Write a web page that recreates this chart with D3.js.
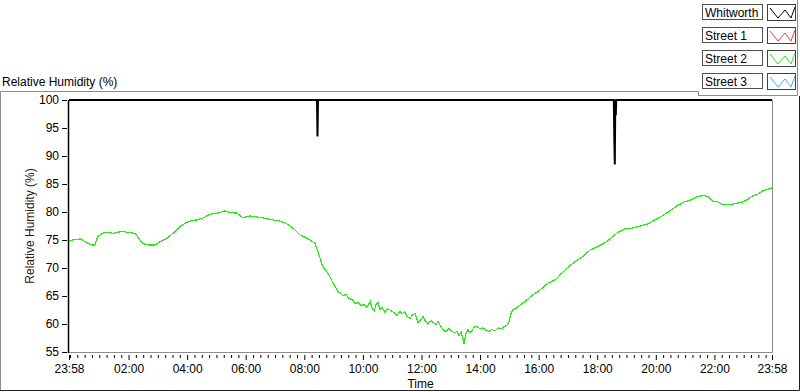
<!DOCTYPE html>
<html>
<head>
<meta charset="utf-8">
<script src="https://cdn.jsdelivr.net/npm/d3@7"></script>
<style>
  body { margin: 0; background: #fff; }
  svg { display: block; font-family: "Segoe UI", Tahoma, "Liberation Sans", sans-serif; }
</style>
</head>
<body>
<div id="chart"></div>
<script>
// minutes elapsed since 23:58 (start of the 24 h window)
const street2Min = [0, 8, 23, 29, 39, 47, 53, 59, 68, 80, 90, 100, 111, 125, 135, 141, 150, 156, 166, 176,
  186, 201, 213, 227, 244, 262, 274, 289, 303, 320, 330, 344, 356, 371, 387, 401, 416, 432, 446, 459,
  473, 488, 504, 510, 520, 531, 541, 551, 555, 561, 567, 574, 580, 586, 592, 598, 604, 610, 617, 621,
  625, 629, 633, 637, 641, 647, 653, 660, 666, 672, 678, 682, 688, 692, 699, 703, 709, 715, 721, 725,
  729, 735, 742, 746, 752, 756, 760, 766, 772, 778, 782, 789, 795, 799, 803, 807, 809, 813, 817, 821,
  826, 832, 838, 842, 848, 854, 860, 866, 873, 879, 885, 891, 897, 901, 905, 909, 916, 924, 932, 938,
  944, 950, 959, 965, 973, 981, 996, 1006, 1020, 1036, 1053, 1067, 1082, 1098, 1112, 1125, 1139, 1153, 1170, 1186,
  1200, 1215, 1231, 1245, 1260, 1272, 1286, 1299, 1309, 1319, 1329, 1340, 1350, 1360, 1370, 1381, 1391, 1401, 1411, 1422,
  1432, 1440];
const street2 = [74.8, 75.0, 75.2, 74.9, 74.4, 74.1, 74.1, 75.6, 76.2, 76.4, 76.2, 76.4, 76.5, 76.3, 76.2, 75.5, 74.5, 74.2, 74.1, 74.1,
  74.7, 75.3, 76.2, 77.4, 78.3, 78.6, 78.9, 79.6, 79.8, 80.2, 79.9, 79.8, 79.0, 79.3, 79.1, 78.9, 78.6, 78.4, 77.9, 77.1,
  75.9, 75.3, 74.4, 72.9, 70.2, 69.0, 67.3, 65.8, 65.6, 65.0, 65.3, 64.5, 64.4, 63.6, 63.9, 63.3, 63.5, 63.0, 64.0, 62.8,
  62.3, 63.5, 63.8, 62.6, 63.0, 62.1, 62.7, 62.4, 62.0, 61.5, 62.3, 61.8, 62.2, 61.4, 61.0, 61.6, 61.9, 60.2, 60.8, 61.3,
  60.7, 60.0, 60.6, 60.3, 59.9, 60.5, 59.8, 59.0, 58.6, 59.2, 58.9, 58.4, 58.7, 57.9, 58.6, 57.2, 56.5, 58.3, 59.0, 58.5,
  58.9, 59.6, 59.4, 59.1, 59.3, 58.9, 58.7, 59.0, 58.8, 59.3, 59.1, 59.5, 59.8, 60.4, 61.8, 62.5, 62.8, 63.4, 63.9, 64.3,
  64.8, 65.2, 65.7, 66.1, 66.7, 67.3, 67.9, 68.8, 70.0, 71.1, 72.1, 73.2, 73.8, 74.5, 75.5, 76.4, 77.0, 77.1, 77.5, 77.9,
  78.6, 79.3, 80.2, 81.1, 81.8, 82.1, 82.7, 83.0, 82.7, 81.9, 81.8, 81.3, 81.3, 81.4, 81.6, 81.8, 82.3, 82.9, 83.2, 83.8,
  84.1, 84.3];

const whitworthMin = [0, 508, 509, 510, 1116, 1117, 1118, 1119, 1120, 1121, 1440];
const whitworth = [100, 100, 93.5, 100, 100, 93.0, 88.5, 100, 97.3, 100, 100];

const seriesNames = ["Whitworth", "Street 1", "Street 2", "Street 3"];
const seriesColors = ["#000000", "#f03c3c", "#22ee11", "#3cb4f0"];

const yTicks = [55, 60, 65, 70, 75, 80, 85, 90, 95, 100];
const xMajor = [0, 122, 242, 362, 482, 602, 722, 842, 962, 1082, 1202, 1322, 1440];

const width = 800, height = 392;
const margin = { top: 100, right: 28, bottom: 40, left: 69 };

const svg = d3.select("#chart").append("svg")
  .attr("width", width)
  .attr("height", height);

const x = d3.scaleLinear().domain([0, 1440]).range([margin.left, width - margin.right]);
const y = d3.scaleLinear().domain([55, 100]).range([height - margin.bottom, margin.top]);

const clock = t => {
  const m = ((t - 2) % 1440 + 1440) % 1440;
  return String(Math.floor(m / 60)).padStart(2, "0") + ":" + String(m % 60).padStart(2, "0");
};

// outer panel frame
svg.append("path").attr("d", "M0.5,390 V91.5 H698.5 V96").attr("fill", "none").attr("stroke", "#8c8c8c");
svg.append("path").attr("d", "M698,95.5 H797.5 V0").attr("fill", "none").attr("stroke", "#8c8c8c");
svg.append("path").attr("d", "M799.5,96 V390.5 H0").attr("fill", "none").attr("stroke", "#202020");

svg.append("text").attr("x", 2).attr("y", 86).attr("font-size", 12).attr("fill", "#000")
  .text("Relative Humidity (%)");

// plot frame (right + bottom grey)
svg.append("path")
  .attr("d", `M${x(0)},${y(55) + 0.5} H${x(1440) + 0.5} V${y(100)}`)
  .attr("fill", "none").attr("stroke", "#8c8c8c");

// y axis
const yAxis = d3.axisLeft(y).tickValues(yTicks).tickSize(5).tickPadding(3);
const gy = svg.append("g").attr("transform", `translate(${x(0) - 2},0)`).call(yAxis);
gy.select(".domain").remove();
gy.selectAll("text").attr("font-size", 12).attr("fill", "#000").attr("font-family", null);
gy.selectAll("line").attr("stroke", "#000");
svg.append("line").attr("x1", x(0) - 0.5).attr("x2", x(0) - 0.5)
  .attr("y1", y(100)).attr("y2", y(55) + 1).attr("stroke", "#000").attr("stroke-width", 1.5);

// x axis: major + minor ticks
const minor = d3.range(2, 1440, 15).filter(t => !xMajor.includes(t));
const gxm = svg.append("g").attr("transform", `translate(0,${y(55) + 3})`)
  .call(d3.axisBottom(x).tickValues(minor).tickSize(3).tickFormat(""));
gxm.select(".domain").remove();
const gx = svg.append("g").attr("transform", `translate(0,${y(55) + 3})`)
  .call(d3.axisBottom(x).tickValues(xMajor).tickSize(5).tickPadding(4).tickFormat(clock));
gx.select(".domain").remove();
gx.selectAll("text").attr("font-size", 12).attr("fill", "#000").attr("font-family", null);
svg.selectAll(".tick line").attr("stroke", "#000");

svg.append("text").attr("x", (x(0) + x(1440)) / 2).attr("y", 388).attr("text-anchor", "middle")
  .attr("font-size", 12).text("Time");
svg.append("text").attr("transform", `translate(34,${(y(55) + y(100)) / 2}) rotate(-90)`)
  .attr("text-anchor", "middle").attr("font-size", 12).attr("fill", "#2a1414")
  .text("Relative Humidity (%)");

// data lines
svg.append("clipPath").attr("id", "clip").append("rect")
  .attr("x", x(0)).attr("y", y(100) - 1).attr("width", x(1440) - x(0)).attr("height", y(55) - y(100) + 1);

const line = d3.line().x(d => x(d[0])).y(d => y(d[1]));
const plot = svg.append("g").attr("clip-path", "url(#clip)");

plot.append("path")
  .datum(street2Min.map((t, i) => [t, street2[i]]))
  .attr("d", line).attr("fill", "none").attr("stroke", seriesColors[2]).attr("stroke-width", 1.2)
  .attr("shape-rendering", "crispEdges");

plot.append("path")
  .datum(whitworthMin.map((t, i) => [t, whitworth[i]]))
  .attr("d", line).attr("fill", "none").attr("stroke", seriesColors[0]).attr("stroke-width", 2);

// legend
const legend = svg.append("g");
seriesNames.forEach((name, i) => {
  const top = 4 + i * 23;
  legend.append("rect").attr("x", 702.5).attr("y", top + 0.5).attr("width", 60).attr("height", 15)
    .attr("fill", "#fff").attr("stroke", "#505050");
  legend.append("text").attr("x", 705).attr("y", top + 12.5).attr("font-size", 12).text(name);
  legend.append("rect").attr("x", 767.5).attr("y", top + 0.5).attr("width", 28).attr("height", 16)
    .attr("fill", "#fff").attr("stroke", "#404040");
  legend.append("path")
    .attr("d", `M770,${top + 4} L778,${top + 14} L785,${top + 6} L791,${top + 14} L795,${top + 3}`)
    .attr("fill", "none").attr("stroke", seriesColors[i]).attr("stroke-width", 1);
});
</script>
</body>
</html>
